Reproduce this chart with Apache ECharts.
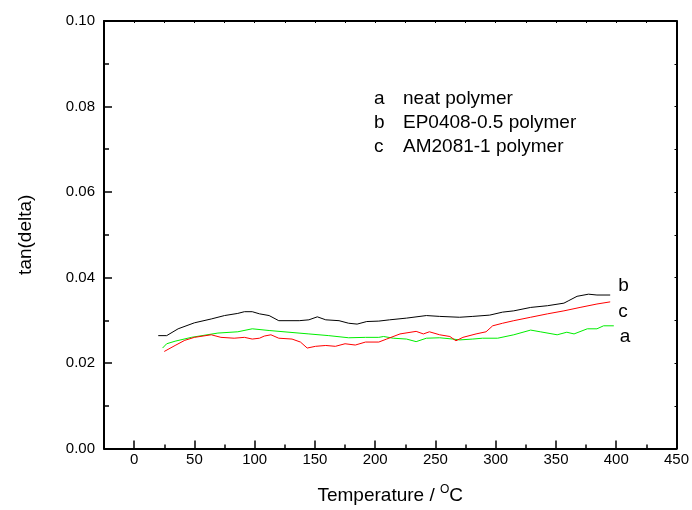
<!DOCTYPE html>
<html>
<head>
<meta charset="utf-8">
<script src="https://cdn.jsdelivr.net/npm/echarts@6/dist/echarts.min.js"></script>
<style>html,body{margin:0;padding:0;background:#fff}#main{width:692px;height:510px}</style>
</head>
<body>
<div id="main"></div>
<script>
// ---- data ----
var tempA = [23.6, 27, 34, 47.5, 69.5, 86, 98, 112, 128.5, 145, 161.5, 178, 192, 203, 207, 215, 226, 234, 242.5, 253.5, 264.5, 270, 281, 289, 301.6, 315, 329, 337, 351, 359, 365, 376, 384, 389.5, 398];
var tanA  = [0.0235, 0.0245, 0.0251, 0.0260, 0.0270, 0.0273, 0.0280, 0.0276, 0.0272, 0.0268, 0.0264, 0.0259, 0.0260, 0.0260, 0.0262, 0.0258, 0.0256, 0.0250, 0.0258, 0.0259, 0.0256, 0.0254, 0.0256, 0.0258, 0.0258, 0.0266, 0.0277, 0.0273, 0.0266, 0.0272, 0.0268, 0.0280, 0.0280, 0.0287, 0.0287];

var tempB = [20, 27, 36.5, 50, 64, 75, 86, 91.5, 98, 104, 112, 120, 137, 145, 152, 159, 170, 178, 185, 193, 203, 212, 226, 242.5, 253.5, 270, 281, 295, 305.7, 315, 329, 343, 356.6, 360.7, 367.5, 377, 384, 395];
var tanB  = [0.0264, 0.0264, 0.0280, 0.0294, 0.0303, 0.0311, 0.0316, 0.0320, 0.0320, 0.0315, 0.0311, 0.0299, 0.0299, 0.0301, 0.0308, 0.0301, 0.0299, 0.0293, 0.0291, 0.0297, 0.0298, 0.0301, 0.0305, 0.0311, 0.0309, 0.0307, 0.0309, 0.0312, 0.0319, 0.0322, 0.0330, 0.0334, 0.0340, 0.0346, 0.0356, 0.0361, 0.0359, 0.0359];

var tempC = [25, 34, 42, 50, 64, 72, 83, 91.5, 98, 104, 108, 113.5, 120, 131, 138, 143.6, 150.5, 159, 167, 175, 183.5, 192, 203, 209.5, 220.6, 234, 240, 245, 253.5, 262, 267, 272.8, 283.7, 292, 297.5, 305.7, 315, 329, 343, 356.6, 370, 384, 395];
var tanC  = [0.0227, 0.0241, 0.0253, 0.0260, 0.0266, 0.0260, 0.0258, 0.0260, 0.0256, 0.0258, 0.0263, 0.0266, 0.0258, 0.0256, 0.0249, 0.0235, 0.0239, 0.0241, 0.0239, 0.0245, 0.0242, 0.0249, 0.0249, 0.0256, 0.0268, 0.0274, 0.0268, 0.0273, 0.0266, 0.0262, 0.0252, 0.0260, 0.0268, 0.0273, 0.0287, 0.0293, 0.0299, 0.0307, 0.0315, 0.0322, 0.0330, 0.0338, 0.0343];

var xTickCats = ['-25','0','25','50','75','100','125','150','175','200','225','250','275','300','325','350','375','400','425','450'];
var yTickCats = ['0.00','0.01','0.02','0.03','0.04','0.05','0.06','0.07','0.08','0.09','0.10'];

var legendLetters = ['a', 'b', 'c'];
var legendNames = ['neat polymer', 'EP0408-0.5 polymer', 'AM2081-1 polymer'];

function zip(xs, ys) { return xs.map(function (x, i) { return [x, ys[i]]; }); }

var FONT = 'Liberation Sans, Arial, sans-serif';
var chart = echarts.init(document.getElementById('main'), null, {renderer: 'canvas'});

var lineAxis = {onZero: false, lineStyle: {color: '#000', width: 2}};

var graphics = [];
legendLetters.forEach(function (l, i) {
  graphics.push({type: 'text', left: 374, top: 89 + i * 24, style: {text: l, font: '19px ' + FONT, fill: '#000'}});
  graphics.push({type: 'text', left: 403, top: 89 + i * 24, style: {text: legendNames[i], font: '19px ' + FONT, fill: '#000'}});
});

var option = {
  backgroundColor: '#fff',
  animation: false,
  grid: {left: 104, right: 13, top: 21, bottom: 60, containLabel: false},
  xAxis: [
    {
      type: 'value', min: -25, max: 450, interval: 25, position: 'bottom',
      axisLine: lineAxis,
      axisTick: {show: true, inside: true, length: 4, lineStyle: {color: '#000', width: 1.5}},
      splitLine: {show: false},
      axisLabel: {
        color: '#000', fontSize: 15, fontFamily: FONT, margin: 4,
        formatter: function (v) { return (v >= 0 && v % 50 === 0) ? String(v) : ''; }
      },
      name: '{n|Temperature / }{s|O}{n|C}',
      nameLocation: 'middle', nameGap: 35,
      nameTextStyle: {
        rich: {
          n: {fontSize: 19, fontFamily: FONT, color: '#000'},
          s: {fontSize: 12, fontFamily: FONT, color: '#000', padding: [0, 0, 12, 0]}
        }
      }
    },
    {
      type: 'category', boundaryGap: false, data: xTickCats, position: 'bottom',
      axisLine: {show: false, onZero: false},
      axisTick: {show: true, inside: true, length: 8, lineStyle: {color: '#000', width: 1.5},
        interval: function (i, v) { var n = Number(v); return n >= 0 && n % 50 === 0; }},
      axisLabel: {show: false}, splitLine: {show: false}
    },
    {
      type: 'value', min: -25, max: 450, interval: 25, position: 'top',
      axisLine: lineAxis,
      axisTick: {show: true, inside: true, length: 2, lineStyle: {color: '#000', width: 1}},
      axisLabel: {show: false}, splitLine: {show: false}
    }
  ],
  yAxis: [
    {
      type: 'value', min: 0, max: 0.1, interval: 0.01, position: 'left',
      axisLine: lineAxis,
      axisTick: {show: true, inside: true, length: 5, lineStyle: {color: '#000', width: 1.5}},
      splitLine: {show: false},
      axisLabel: {
        color: '#000', fontSize: 15, fontFamily: FONT, margin: 9,
        formatter: function (v) { return (Math.round(v * 100) % 2 === 0) ? v.toFixed(2) : ''; }
      },
      name: 'tan(delta)', nameLocation: 'middle', nameGap: 69, nameRotate: 90,
      nameTextStyle: {fontSize: 19, fontFamily: FONT, color: '#000'}
    },
    {
      type: 'category', boundaryGap: false, data: yTickCats, position: 'left',
      axisLine: {show: false, onZero: false},
      axisTick: {show: true, inside: true, length: 8, lineStyle: {color: '#000', width: 1.5},
        interval: function (i) { return i % 2 === 0; }},
      axisLabel: {show: false}, splitLine: {show: false}
    },
    {
      type: 'value', min: 0, max: 0.1, interval: 0.01, position: 'right',
      axisLine: lineAxis,
      axisTick: {show: true, inside: true, length: 2, lineStyle: {color: '#000', width: 1}},
      axisLabel: {show: false}, splitLine: {show: false}
    }
  ],
  series: [
    {
      name: 'a', type: 'line', xAxisIndex: 0, yAxisIndex: 0, data: zip(tempA, tanA),
      showSymbol: false, symbol: 'none', lineStyle: {color: '#00ee00', width: 1}, z: 3,
      endLabel: {show: true, formatter: 'a', fontSize: 19, fontFamily: FONT, color: '#000', offset: [-2, 11]}
    },
    {
      name: 'b', type: 'line', xAxisIndex: 0, yAxisIndex: 0, data: zip(tempB, tanB),
      showSymbol: false, symbol: 'none', lineStyle: {color: '#000', width: 1}, z: 3,
      endLabel: {show: true, formatter: 'b', fontSize: 19, fontFamily: FONT, color: '#000', offset: [0, -9]}
    },
    {
      name: 'c', type: 'line', xAxisIndex: 0, yAxisIndex: 0, data: zip(tempC, tanC),
      showSymbol: false, symbol: 'none', lineStyle: {color: '#ff0000', width: 1}, z: 3,
      endLabel: {show: true, formatter: 'c', fontSize: 19, fontFamily: FONT, color: '#000', offset: [0, 10]}
    }
  ],
  graphic: graphics
};
chart.setOption(option);
</script>
</body>
</html>
